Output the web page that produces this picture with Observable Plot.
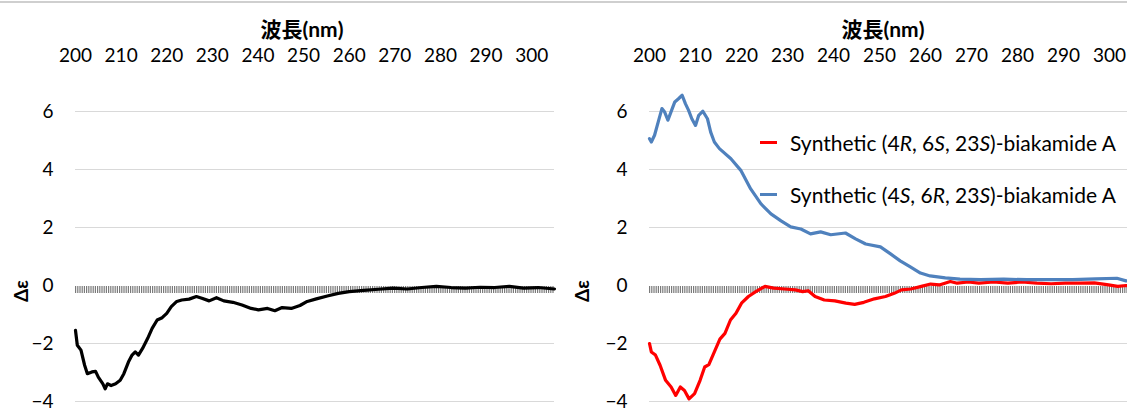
<!DOCTYPE html>
<html><head><meta charset="utf-8">
<script src="https://cdn.jsdelivr.net/npm/d3@7"></script>
<script src="https://cdn.jsdelivr.net/npm/@observablehq/plot@0.6"></script>
<style>
html,body{margin:0;padding:0;background:#fff;}
#wrap{position:relative;width:1127px;height:411px;overflow:hidden;font-family:Lato,"Noto Sans",sans-serif;color:#000;}
#topline{position:absolute;left:0;top:1px;width:1127px;height:2px;background:#cfcfcf;}
.panel{position:absolute;top:0;}
.panel svg{max-width:none !important;}
.title{position:absolute;top:18px;line-height:1;font-family:Lato,"Noto Sans CJK JP",sans-serif;font-weight:bold;font-size:21px;white-space:nowrap;transform:translateX(-50%);}
.ylab{position:absolute;font-family:Lato,"Noto Sans",sans-serif;font-weight:bold;font-size:19px;white-space:nowrap;transform:translate(-50%,-50%) rotate(-90deg);}
.legend{position:absolute;left:760px;font-size:21px;white-space:nowrap;}
.legend .row{position:absolute;left:0;display:flex;align-items:center;height:24px;}
.legend .sw{display:inline-block;width:17px;height:3px;margin-right:13px;}
</style>
</head><body>
<div id="wrap">
  <div id="topline"></div>
  <div id="left" class="panel" style="left:0px;width:563px"></div>
  <div id="right" class="panel" style="left:574px;width:567px"></div>
  <div class="title" style="left:302px">波長(nm)</div>
  <div class="title" style="left:883px">波長(nm)</div>
  <div class="ylab" style="left:20px;top:291px">Δε</div>
  <div class="ylab" style="left:581px;top:291px">Δε</div>
  <div class="legend" style="top:130px">
    <div class="row" style="top:0px"><span class="sw" style="background:#ff0000"></span><span>Synthetic (4<i>R</i>, 6<i>S</i>, 23<i>S</i>)-biakamide A</span></div>
    <div class="row" style="top:52px"><span class="sw" style="background:#4f81bd"></span><span>Synthetic (4<i>S</i>, 6<i>R</i>, 23<i>S</i>)-biakamide A</span></div>
  </div>
</div>
<script>
// x ticks (wavelength, nm) and y ticks (Δε)
const xTicks = [200, 210, 220, 230, 240, 250, 260, 270, 280, 290, 300];
const yTicks = [-4, -2, 0, 2, 4, 6];
const yGrid = [-4, -2, 2, 4, 6];
const xDomain = [200, 305];
const yDomain = [-4, 7];

// Left panel: natural biakamide A (black)
const wlBlack = [200,200.4,201.2,202,202.6,203.6,204.4,205,206,206.5,207,207.8,208.8,209.8,210.6,211.6,212.4,213.1,213.8,214.7,215.8,216.8,217.9,219,220,221,222.2,223.3,224.9,226.5,227.7,229.3,230.9,232.5,234.5,236.5,238.5,240.1,242.1,243.7,245.3,247.3,249.2,250.8,252.8,255.2,257.6,260,263.2,266.4,269.6,272.7,275.9,279.1,282.3,285.5,288.7,291.9,295.1,298.2,301.4,305];
const deBlack = [-1.55,-2.06,-2.23,-2.75,-3.04,-2.98,-2.96,-3.16,-3.39,-3.56,-3.39,-3.45,-3.39,-3.27,-3.04,-2.64,-2.40,-2.29,-2.40,-2.17,-1.83,-1.48,-1.19,-1.11,-0.96,-0.73,-0.55,-0.50,-0.47,-0.38,-0.44,-0.53,-0.42,-0.53,-0.58,-0.67,-0.79,-0.84,-0.79,-0.87,-0.76,-0.79,-0.69,-0.55,-0.46,-0.36,-0.27,-0.21,-0.17,-0.13,-0.09,-0.12,-0.07,-0.03,-0.07,-0.09,-0.06,-0.07,-0.03,-0.09,-0.07,-0.12];

// Right panel: Synthetic (4R, 6S, 23S) (red)
const wlRed = [200,200.4,201.3,202.3,203.5,204.7,205.7,206.7,207.6,208.6,209.8,211,212,212.9,214.1,215.3,216.4,217.6,218.8,220,221.5,223.1,225.1,227,229.4,231.7,233.3,234.5,236,238,240.3,242.7,244.6,246.6,248.9,251.3,253.2,254.8,256.8,259.1,261.1,263,265.4,266.9,269.3,271.6,274.8,277.9,281,284.2,287.3,290.4,293.6,296.7,299.8,301.8,303.6,305];
const deRed = [-2.0,-2.29,-2.40,-2.75,-3.27,-3.50,-3.79,-3.50,-3.62,-3.91,-3.73,-3.27,-2.81,-2.73,-2.29,-1.85,-1.65,-1.19,-0.96,-0.61,-0.38,-0.21,-0.03,-0.09,-0.12,-0.15,-0.21,-0.18,-0.38,-0.50,-0.53,-0.61,-0.65,-0.58,-0.46,-0.38,-0.27,-0.15,-0.12,-0.03,0.05,0.02,0.14,0.08,0.12,0.08,0.12,0.08,0.12,0.08,0.06,0.08,0.08,0.09,0.02,-0.03,0,-0.02];

// Right panel: Synthetic (4S, 6R, 23S) (blue)
const wlBlue = [200,200.4,201.1,201.9,202.7,203.3,204.0,204.8,205.5,206.3,207.1,207.8,208.5,209.2,210.0,210.7,211.6,212.6,213.3,214.1,215.2,217.7,219.9,222,224.2,226.4,228.6,230.7,232.9,235,237.2,239.4,242.6,244.8,247,250.2,252.4,254.5,256.7,258.9,261,264.3,267.5,272,277,282,287,292,297,301.6,303.6,305];
const deBlue = [5.06,4.95,5.18,5.64,6.10,5.98,5.70,6.04,6.33,6.44,6.56,6.27,6.04,5.75,5.52,5.87,6.01,5.75,5.29,4.95,4.72,4.37,3.96,3.33,2.82,2.47,2.23,2.02,1.95,1.78,1.85,1.75,1.81,1.61,1.43,1.33,1.09,0.85,0.64,0.43,0.33,0.26,0.22,0.20,0.22,0.20,0.20,0.20,0.23,0.25,0.16,0.14];

const zip = (xs, ys) => xs.map((x, i) => ({wl: x, de: ys[i]}));

function panel(series, width, marginRight) {
  return Plot.plot({
    width, height: 411,
    marginLeft: 75, marginRight, marginTop: 82, marginBottom: 10,
    style: {fontFamily: "Lato, 'Noto Sans', sans-serif", fontSize: "19px", color: "#000", background: "transparent", overflow: "visible", maxWidth: "none"},
    x: {domain: xDomain},
    y: {domain: yDomain},
    marks: [
      Plot.gridY(yGrid, {stroke: "#d9d9d9", strokeOpacity: 1, strokeWidth: 1}),
      Plot.axisY(yTicks, {tickSize: 0, tickPadding: 22, label: null, fontSize: 19}),
      Plot.axisX(xTicks, {anchor: "top", tickSize: 0, tickPadding: 21, label: null, fontSize: 19}),
      Plot.ruleY([0], {stroke: "#7a7a7a", strokeWidth: 7, strokeDasharray: "1.2,1", dy: 4}),
      ...series.map(s => Plot.line(zip(s.wl, s.de), {x: "wl", y: "de", stroke: s.color, strokeWidth: 3.2, strokeLinejoin: "round", strokeLinecap: "round"}))
    ]
  });
}

document.getElementById("left").append(panel([{wl: wlBlack, de: deBlack, color: "#000000"}], 563, 9));
document.getElementById("right").append(panel([
  {wl: wlRed, de: deRed, color: "#ff0000"},
  {wl: wlBlue, de: deBlue, color: "#4f81bd"}
], 567, 9));
</script>
</body></html>
